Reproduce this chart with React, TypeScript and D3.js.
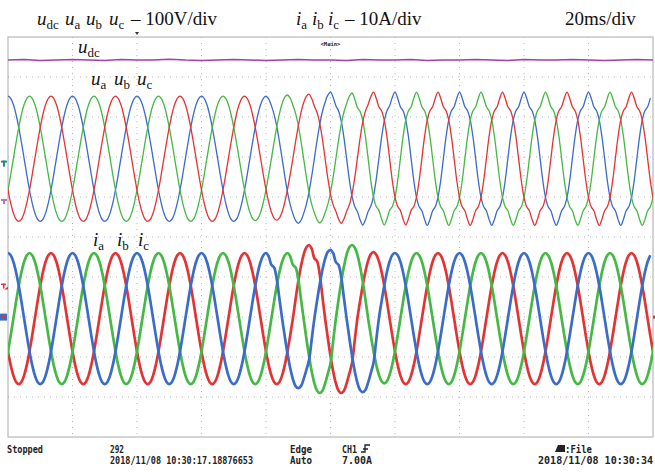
import React from 'react'
import * as d3 from 'd3'

const W = 655
const H = 472

// 20 ms/div horizontally, 10 div; vertical grid 10 div
const TIME_TICKS = [0, 20, 40, 60, 80, 100, 120, 140, 160, 180, 200]
const DIV_TICKS = [-5, -4, -3, -2, -1, 0, 1, 2, 3, 4, 5]
const PERIOD = 20
const TRIGGER_T = 40

// one cycle in 15 degree steps, starting at the positive peak
const SHAPE_CLEAN = [1, 0.966, 0.866, 0.707, 0.5, 0.259, 0, -0.259, -0.5, -0.707, -0.866, -0.966, -1, -0.966, -0.866, -0.707, -0.5, -0.259, 0, 0.259, 0.5, 0.707, 0.866, 0.966]
const SHAPE_NOTCHED = [1, 0.91, 0.78, 0.72, 0.58, 0.33, 0, -0.33, -0.58, -0.72, -0.78, -0.91, -1, -0.91, -0.78, -0.72, -0.58, -0.33, 0, 0.33, 0.58, 0.72, 0.78, 0.91]
const SHAPE_BUMP = [1, 0.95, 0.82, 0.78, 0.6, 0.3, 0, -0.26, -0.5, -0.71, -0.87, -0.97, -1, -0.97, -0.87, -0.74, -0.6, -0.3, 0, 0.26, 0.5, 0.71, 0.87, 0.97]

// peak times of the three phases (ms) - blue, green, red
const PEAK_T = [0, 6.67, 13.33]

// per cycle k = -1 .. 10, voltages in V
const UA_PEAK = [156, 156, 156, 156, 156, 156, 166, 166, 166, 166, 166, 166]
const UA_TROUGH = [157, 157, 157, 157, 157, 162, 166, 167, 167, 167, 167, 167]
const UA_NOTCH = [0, 0, 0, 0, 0, 0.2, 0.8, 1, 1, 1, 1, 1]
const UB_PEAK = [156, 156, 156, 156, 156, 159, 164, 166, 166, 166, 166, 166]
const UB_TROUGH = [157, 157, 157, 157, 155, 161, 166, 167, 167, 167, 167, 167]
const UB_NOTCH = [0, 0, 0, 0, 0, 0.3, 1, 1, 1, 1, 1, 1]
const UC_PEAK = [156, 156, 156, 156, 156, 161, 166, 166, 166, 166, 166, 166]
const UC_TROUGH = [157, 157, 157, 157, 154, 162, 166, 167, 167, 167, 167, 167]
const UC_NOTCH = [0, 0, 0, 0, 0, 0.6, 1, 1, 1, 1, 1, 1]

// currents in A
const IA_PEAK = [16.4, 16.4, 16.4, 16.4, 16.4, 16.4, 17.2, 16.4, 16.4, 16.4, 16.4, 16.4]
const IA_TROUGH = [16.4, 16.4, 16.4, 16.4, 16.4, 17.4, 18.4, 16.4, 16.4, 16.4, 16.4, 16.4]
const IA_BUMP = [0, 0, 0, 0, 0, 1, 1, 0, 0, 0, 0, 0]
const IB_PEAK = [16.4, 16.4, 16.4, 16.4, 16.4, 16.4, 18.4, 16.4, 16.4, 16.4, 16.4, 16.4]
const IB_TROUGH = [16.4, 16.4, 16.4, 16.4, 16.4, 18.6, 16.2, 16.4, 16.4, 16.4, 16.4, 16.4]
const IB_BUMP = [0, 0, 0, 0, 0, 1, 0, 0, 0, 0, 0, 0]
const IC_PEAK = [16.4, 16.4, 16.4, 16.4, 16.4, 18.4, 16.6, 16.4, 16.4, 16.4, 16.4, 16.4]
const IC_TROUGH = [16.4, 16.4, 16.4, 16.4, 16.4, 18.6, 16.4, 16.4, 16.4, 16.4, 16.4, 16.4]
const IC_BUMP = [0, 0, 0, 0, 0, 1, 0, 0, 0, 0, 0, 0]

// dc link voltage every 5 ms
const UDC = [350, 351, 349, 350, 351, 350, 349, 351, 350, 350, 352, 350, 349, 350, 351, 350, 349, 350, 351, 350, 350, 349, 351, 350, 350, 351, 349, 350, 350, 351, 350, 349, 351, 350, 350, 351, 350, 349, 350, 351, 350]

const V_OFFSET = 1.96
const I_OFFSET = -2.04
const UDC_OFFSET = 0.925

const COLORS = { blue: '#3a6cc8', green: '#45b845', red: '#e23434', udc: '#a23fa8' }

const x = d3.scaleLinear().domain([0, 200]).range([8, 653])
const div = d3.scaleLinear().domain([-5, 5]).range([437, 37])
const yV = (v: number) => div(V_OFFSET + v / 100)
const yI = (a: number) => div(I_OFFSET + a / 10)
const yUdc = (v: number) => div(UDC_OFFSET + v / 100)

function buildTrace(peakT: number, peaks: number[], troughs: number[], w: number[], alt: number[]) {
  const pts: [number, number][] = []
  for (let i = 0; i < peaks.length - 1; i++) {
    const k = i - 1
    for (let j = 0; j < 24; j++) {
      const t = peakT + (k + j / 24) * PERIOD
      const s = SHAPE_CLEAN[j] * (1 - w[i]) + alt[j] * w[i]
      const amp = s >= 0 ? (j < 12 ? peaks[i] : peaks[i + 1]) : troughs[i]
      pts.push([t, s * amp])
    }
  }
  return pts
}

const VOLTAGES = [
  { color: COLORS.blue, pts: buildTrace(PEAK_T[0], UA_PEAK, UA_TROUGH, UA_NOTCH, SHAPE_NOTCHED) },
  { color: COLORS.green, pts: buildTrace(PEAK_T[1], UB_PEAK, UB_TROUGH, UB_NOTCH, SHAPE_NOTCHED) },
  { color: COLORS.red, pts: buildTrace(PEAK_T[2], UC_PEAK, UC_TROUGH, UC_NOTCH, SHAPE_NOTCHED) },
]
const CURRENTS = [
  { color: COLORS.red, pts: buildTrace(PEAK_T[2], IC_PEAK, IC_TROUGH, IC_BUMP, SHAPE_BUMP) },
  { color: COLORS.green, pts: buildTrace(PEAK_T[1], IB_PEAK, IB_TROUGH, IB_BUMP, SHAPE_BUMP) },
  { color: COLORS.blue, pts: buildTrace(PEAK_T[0], IA_PEAK, IA_TROUGH, IA_BUMP, SHAPE_BUMP) },
]

const vLine = d3.line<[number, number]>().x(d => x(d[0])).y(d => yV(d[1])).curve(d3.curveCatmullRom)
const iLine = d3.line<[number, number]>().x(d => x(d[0])).y(d => yI(d[1])).curve(d3.curveCatmullRom)
const udcLine = d3.line<number>().x((d, i) => x(i * 5)).y(d => yUdc(d))

const SERIF = 'Liberation Serif, Times New Roman, serif'
const MONO = 'DejaVu Sans Mono, monospace'

const Sym = ({ x, y, base, sub, size = 19 }: { x: number; y: number; base: string; sub: string; size?: number }) => (
  <text x={x} y={y} fontFamily={SERIF} fontSize={size} fill="#111">
    <tspan fontStyle="italic">{base}</tspan>
    <tspan fontSize={size * 0.68} dy={size * 0.2}>{sub}</tspan>
  </text>
)

const Status = ({ x, y, len, children }: { x: number; y: number; len: number; children: string }) => (
  <text x={x} y={y} fontFamily={MONO} fontWeight="bold" fontSize={10} fill="#222" textLength={len} lengthAdjust="spacingAndGlyphs">
    {children}
  </text>
)

export default function App() {
  const [l, r] = x.range()
  const [b, t] = div.range()
  return (
    <svg width={W} height={H} style={{ position: 'fixed', left: 0, top: 0, background: '#fff' }}>
      <defs>
        <clipPath id="plot">
          <rect x={l} y={t} width={r - l} height={b - t} />
        </clipPath>
      </defs>

      {/* grid */}
      {TIME_TICKS.slice(1, -1).map(v => (
        <line key={'v' + v} x1={x(v)} x2={x(v)} y1={t} y2={b} stroke="#b4b4b4" strokeDasharray="1,5" />
      ))}
      {DIV_TICKS.slice(1, -1).map(v => (
        <line key={'h' + v} x1={l} x2={r} y1={div(v)} y2={div(v)} stroke="#b4b4b4" strokeDasharray="1,5" />
      ))}
      <rect x={l} y={t} width={r - l} height={b - t} fill="none" stroke="#b8b8b8" strokeWidth={1.2} />

      <g clipPath="url(#plot)" fill="none">
        <path d={udcLine(UDC) || ''} stroke={COLORS.udc} strokeWidth={1.5} />
        {VOLTAGES.map((s, i) => (
          <path key={'u' + i} d={vLine(s.pts) || ''} stroke={s.color} strokeWidth={1.3} />
        ))}
        {CURRENTS.map((s, i) => (
          <path key={'i' + i} d={iLine(s.pts) || ''} stroke={s.color} strokeWidth={2.7} />
        ))}
      </g>

      {/* trigger position and main label */}
      <path d={`M${x(TRIGGER_T) - 2},${t - 5} L${x(TRIGGER_T) + 2},${t - 5} L${x(TRIGGER_T)},${t - 2} Z`} fill="#333" />
      <text x={x(100)} y={t + 9} fontFamily={MONO} fontWeight="bold" fontSize={5.5} textAnchor="middle" fill="#222">{'<Main>'}</text>

      {/* channel markers */}
      <rect x={1} y={yV(0) + 2} width={6} height={2} fill="#1d8a86" />
      <rect x={3} y={yV(0) + 2} width={2} height={6} fill="#1d8a86" />
      <rect x={1} y={yUdc(0) - 1} width={6} height={2} fill="#b07ab8" />
      <rect x={3} y={yUdc(0) - 1} width={2} height={5} fill="#b07ab8" />
      <rect x={1} y={yI(0) - 35} width={5} height={1.5} fill="#e23434" />
      <rect x={3} y={yI(0) - 35} width={1.5} height={5} fill="#e23434" />
      <path d={`M4,${yI(0) - 29} L8,${yI(0) - 29} L8,${yI(0) - 32} Z`} fill="#e23434" />
      <rect x={0} y={yI(0) - 5} width={7} height={7} fill="#3a6cc8" />
      <rect x={1} y={yI(0) - 3} width={5} height={2} fill="#e23434" />
      <rect x={653} y={yI(0) - 3} width={2} height={3} fill="#e23434" />

      {/* headings */}
      <Sym x={37} y={25} base="u" sub="dc" />
      <Sym x={65} y={25} base="u" sub="a" />
      <Sym x={86} y={25} base="u" sub="b" />
      <Sym x={109} y={25} base="u" sub="c" />
      <text x={131} y={25} fontFamily={SERIF} fontSize={19} fill="#111">– 100V/div</text>
      <Sym x={296} y={25} base="i" sub="a" />
      <Sym x={312} y={25} base="i" sub="b" />
      <Sym x={328} y={25} base="i" sub="c" />
      <text x={345} y={25} fontFamily={SERIF} fontSize={19} fill="#111">– 10A/div</text>
      <text x={565} y={25} fontFamily={SERIF} fontSize={19} fill="#111">20ms/div</text>

      <Sym x={78} y={53} base="u" sub="dc" />
      <Sym x={91} y={85} base="u" sub="a" />
      <Sym x={114} y={85} base="u" sub="b" />
      <Sym x={137} y={85} base="u" sub="c" />
      <Sym x={93} y={246} base="i" sub="a" />
      <Sym x={117} y={246} base="i" sub="b" />
      <Sym x={138} y={246} base="i" sub="c" />

      {/* status bar */}
      <Status x={7} y={453} len={36}>Stopped</Status>
      <Status x={110} y={453} len={14}>292</Status>
      <Status x={110} y={464} len={143}>2018/11/08 10:30:17.18876653</Status>
      <Status x={290} y={453} len={22}>Edge</Status>
      <Status x={290} y={464} len={22}>Auto</Status>
      <Status x={342} y={453} len={15}>CH1</Status>
      <path d="M361,452 L365,452 L365,445 L370,445 M363,449 L368,449" stroke="#222" strokeWidth={1.3} fill="none" />
      <Status x={342} y={464} len={30}>7.00A</Status>
      <path d="M555,452 L558,445 L565,445 L565,452 Z" fill="#222" />
      <Status x={565} y={453} len={27}>:File</Status>
      <Status x={538} y={464} len={115}>2018/11/08 10:30:34</Status>
    </svg>
  )
}
